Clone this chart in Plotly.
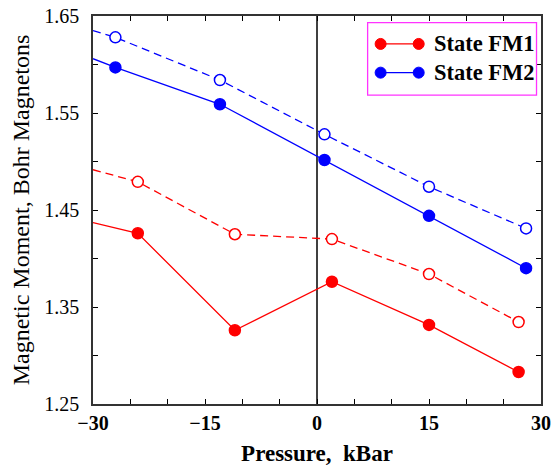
import plotly.graph_objects as go

# ---- data ----
edge_x = -30
fm2_open_x = [-27, -13, 1, 15, 28]
fm2_open_y = [1.628, 1.584, 1.528, 1.474, 1.431]
fm2_open_edge = 1.635

fm2_fill_x = [-27, -13, 1, 15, 28]
fm2_fill_y = [1.597, 1.559, 1.5015, 1.444, 1.390]
fm2_fill_edge = 1.606

fm1_open_x = [-24, -11, 2, 15, 27]
fm1_open_y = [1.479, 1.425, 1.420, 1.384, 1.3345]
fm1_open_edge = 1.4915

fm1_fill_x = [-24, -11, 2, 15, 27]
fm1_fill_y = [1.426, 1.326, 1.376, 1.3315, 1.283]
fm1_fill_edge = 1.437

x_ticks = [-30, -15, 0, 15, 30]
y_ticks = [1.25, 1.35, 1.45, 1.55, 1.65]
legend_labels = ["State FM1", "State FM2"]

RED = "#ff0000"
BLUE = "#0000ff"
FONT = "Liberation Serif"

fig = go.Figure()

def add_series(xs, ys, edge_y, color, dashed, filled):
    fig.add_trace(go.Scatter(
        x=[edge_x] + xs, y=[edge_y] + ys, mode="lines",
        line=dict(color=color, width=1.3, dash="8px,5px" if dashed else "solid"),
        showlegend=False, hoverinfo="skip"))
    fig.add_trace(go.Scatter(
        x=xs, y=ys, mode="markers",
        marker=dict(symbol="circle", size=11,
                    color=color if filled else "white",
                    line=dict(color=color, width=1.5)),
        showlegend=False))

add_series(fm1_fill_x, fm1_fill_y, fm1_fill_edge, RED, False, True)
add_series(fm1_open_x, fm1_open_y, fm1_open_edge, RED, True, False)
add_series(fm2_fill_x, fm2_fill_y, fm2_fill_edge, BLUE, False, True)
add_series(fm2_open_x, fm2_open_y, fm2_open_edge, BLUE, True, False)

# manual legend (paper coordinates)
shapes = [
    dict(type="rect", xref="paper", yref="paper", x0=0.613, x1=0.990, y0=0.796, y1=0.983,
         line=dict(color="#ff33ff", width=1.3), fillcolor="white", layer="above"),
]
annotations = []
for label, color, yp in [(legend_labels[0], RED, 0.928), (legend_labels[1], BLUE, 0.854)]:
    shapes.append(dict(type="line", xref="paper", yref="paper", x0=0.642, x1=0.727, y0=yp, y1=yp,
                       line=dict(color=color, width=1.3), layer="above"))
    for xp in (0.642, 0.727):
        shapes.append(dict(type="circle", xref="paper", yref="paper", xsizemode="pixel", ysizemode="pixel",
                           xanchor=xp, yanchor=yp, x0=-5.5, x1=5.5, y0=-5.5, y1=5.5,
                           fillcolor=color, line=dict(color=color, width=1), layer="above"))
    annotations.append(dict(xref="paper", yref="paper", x=0.756, y=yp, xanchor="left", yanchor="middle",
                            text=label, showarrow=False,
                            font=dict(family=FONT, size=22.5, color="black", weight="bold")))

# vertical line at zero
shapes.append(dict(type="line", xref="x", yref="paper", x0=0, x1=0, y0=0, y1=1,
                   line=dict(color="black", width=1.5), layer="below"))

fig.update_layout(
    width=555, height=466,
    margin=dict(l=93, r=14, t=16, b=62),
    paper_bgcolor="white", plot_bgcolor="white",
    shapes=shapes, annotations=annotations,
    showlegend=False,
)
fig.update_xaxes(
    range=[-30, 30], tickvals=x_ticks, ticktext=[f"{v}".replace("-", "\u2212") for v in x_ticks],
    ticks="inside", ticklen=5, tickwidth=1, tickcolor="black",
    minor=dict(dtick=5, tick0=-30, ticks="inside", ticklen=5, tickcolor="black", showgrid=False),
    showline=True, linecolor="#333333", linewidth=1.5, mirror="allticks",
    showgrid=False, zeroline=False, automargin=False,
    tickfont=dict(family=FONT, size=20, color="black", weight="bold"),
    ticklabelstandoff=0, ticklabeloverflow="allow",
    title=dict(text="Pressure,  kBar", font=dict(family=FONT, size=23, color="black", weight="bold"), standoff=13),
)
fig.update_yaxes(
    range=[1.25, 1.65], tickvals=y_ticks, ticktext=[f"{v:.2f}" for v in y_ticks],
    ticks="inside", ticklen=5, tickwidth=1, tickcolor="black",
    minor=dict(dtick=0.05, tick0=1.25, ticks="inside", ticklen=5, tickcolor="black", showgrid=False),
    showline=True, linecolor="#333333", linewidth=1.5, mirror="allticks",
    showgrid=False, zeroline=False, automargin=False,
    tickfont=dict(family=FONT, size=20, color="black"),
    ticklabelstandoff=8, ticklabeloverflow="allow",
    title=dict(text="Magnetic Moment, Bohr Magnetons", font=dict(family=FONT, size=24, color="black"), standoff=8),
)

# remove the browser's default 8px body margin so the figure fills the window
fig.write_html("out.html", config={"displayModeBar": False},
               post_script="document.body.style.margin='0';")
